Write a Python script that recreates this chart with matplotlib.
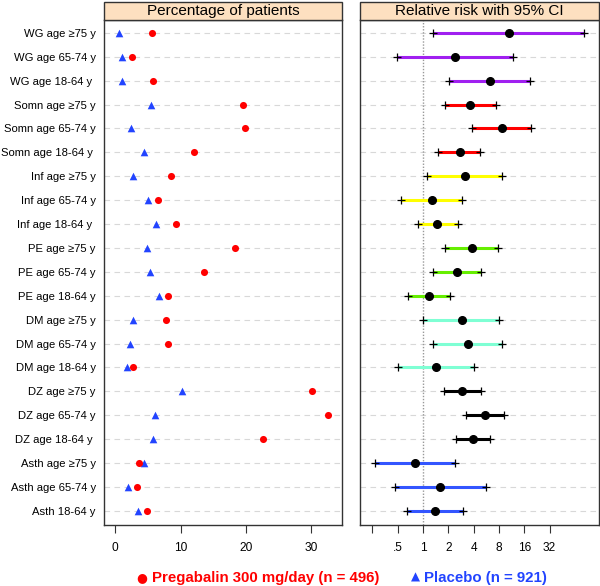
import matplotlib
matplotlib.use("Agg")
import matplotlib.pyplot as plt
from matplotlib.patches import Rectangle
from matplotlib.ticker import NullLocator
import numpy as np

plt.rcParams["font.family"] = ["Liberation Sans", "DejaVu Sans"]

# rows, top to bottom
labels = [
    "WG age ≥75 y", "WG age 65-74 y", "WG age 18-64 y ",
    "Somn age ≥75 y", "Somn age 65-74 y", "Somn age 18-64 y ",
    "Inf age ≥75 y", "Inf age 65-74 y", "Inf age 18-64 y ",
    "PE age ≥75 y", "PE age 65-74 y", "PE age 18-64 y",
    "DM age ≥75 y", "DM age 65-74 y", "DM age 18-64 y",
    "DZ age ≥75 y", "DZ age 65-74 y", "DZ age 18-64 y ",
    "Asth age ≥75 y", "Asth age 65-74 y", "Asth 18-64 y",
]
pregabalin = [5.6, 2.5, 5.7, 19.6, 19.9, 12.0, 8.5, 6.5, 9.3, 18.3,
              13.6, 8.0, 7.7, 8.0, 2.7, 30.1, 32.6, 22.6, 3.6, 3.3, 4.9]
placebo = [0.5, 1.0, 1.0, 5.4, 2.4, 4.4, 2.7, 5.0, 6.2, 4.8,
           5.3, 6.7, 2.7, 2.3, 1.8, 10.2, 6.0, 5.8, 4.4, 2.0, 3.5]
rr = [10.4, 2.38, 6.25, 3.65, 8.6, 2.73, 3.13, 1.27, 1.48, 3.79,
      2.54, 1.18, 2.88, 3.42, 1.41, 2.93, 5.45, 3.9, 0.81, 1.59, 1.39]
rr_lo = [1.31, 0.49, 2.05, 1.81, 3.79, 1.52, 1.12, 0.55, 0.86, 1.81,
         1.33, 0.67, 1.0, 1.33, 0.5, 1.78, 3.22, 2.45, 0.27, 0.46, 0.65]
rr_hi = [82, 11.7, 18.9, 7.3, 19.4, 4.8, 8.76, 2.91, 2.58, 7.8,
         4.85, 2.09, 8.07, 8.76, 4.07, 4.9, 9.25, 6.25, 2.42, 5.56, 3.01]
group_colors = ["#a020f0", "#ff0000", "#ffff00", "#66ee00",
                "#7fffd4", "#000000", "#3355ff"]

RED = "#ff0000"
BLUE = "#2244ff"
HEADER = "#fde0c0"

n = len(labels)
ypos = np.arange(n, 0, -1)

fig = plt.figure(figsize=(6.0, 5.86), dpi=100)
ax1 = fig.add_axes([0.1733, 0.1041, 0.3975, 0.8618])
ax2 = fig.add_axes([0.6008, 0.1041, 0.3975, 0.8618])

for ax in (ax1, ax2):
    for y in ypos:
        ax.axhline(y, color="#d8d8d8", lw=0.8, ls=(0, (5, 4)), zorder=0)
    ax.set_ylim(0.41, n + 0.54)
    for s in ax.spines.values():
        s.set_color("#333333")
        s.set_linewidth(1.0)
    ax.tick_params(axis="x", direction="out", length=6, width=0.8,
                   color="#333333", labelsize=8.6, pad=6)

# left panel
ax1.scatter(placebo, ypos, marker="^", s=30, color=BLUE, zorder=3,
            linewidths=0)
ax1.scatter(pregabalin, ypos, marker="o", s=26, color=RED, zorder=4,
            linewidths=0)
ax1.set_xlim(-1.73, 34.74)
ax1.set_xticks([0, 10, 20, 30])
ax1.set_yticks(ypos)
ax1.set_yticklabels(labels, fontsize=8.1)
ax1.tick_params(axis="y", length=0, pad=6)

# right panel
ax2.set_xscale("log", base=2)
ax2.set_xlim(2 ** -2.47, 2 ** 6.95)
ax2.axvline(1, color="#999999", lw=1.0, ls=(0, (1, 1.2)), zorder=1)
for i, y in enumerate(ypos):
    c = group_colors[i // 3]
    ax2.plot([rr_lo[i], rr_hi[i]], [y, y], color=c, lw=2.2,
             solid_capstyle="butt", zorder=2)
    ax2.plot([rr_lo[i], rr_hi[i]], [y, y], ls="none", marker="+",
             ms=5.5, mew=0.9, color="black", zorder=3)
    ax2.plot(rr[i], y, marker="o", ms=5.5, color="black", zorder=4)
ax2.set_xticks([0.25, 0.5, 1, 2, 4, 8, 16, 32])
ax2.set_xticklabels(["", ".5", "1", "2", "4", "8", "16", "32"])
ax2.xaxis.set_minor_locator(NullLocator())
ax2.set_yticks([])

# header boxes
for ax, title in ((ax1, "Percentage of patients"),
                  (ax2, "Relative risk with 95% CI")):
    box = ax.get_position()
    fig.patches.append(Rectangle((box.x0, box.y1), box.width, 0.0315,
                                 transform=fig.transFigure,
                                 facecolor=HEADER, edgecolor="#333333",
                                 lw=1.0))
    fig.text(box.x0 + box.width / 2, box.y1 + 0.0155, title,
             ha="center", va="center", fontsize=11)

# legend
fig.text(0.237, 0.0137, "●", color=RED, fontsize=9, va="center",
         ha="center", family=["DejaVu Sans"])
fig.text(0.2528, 0.0137, "Pregabalin 300 mg/day (n = 496)", color=RED,
         fontsize=10.8, fontweight="bold", va="center")
fig.text(0.692, 0.0150, "▲", color=BLUE, fontsize=8.5, va="center",
         ha="center", family=["DejaVu Sans"])
fig.text(0.7067, 0.0137, "Placebo (n = 921)", color=BLUE,
         fontsize=10.8, fontweight="bold", va="center")

fig.savefig("out.png", dpi=100)
